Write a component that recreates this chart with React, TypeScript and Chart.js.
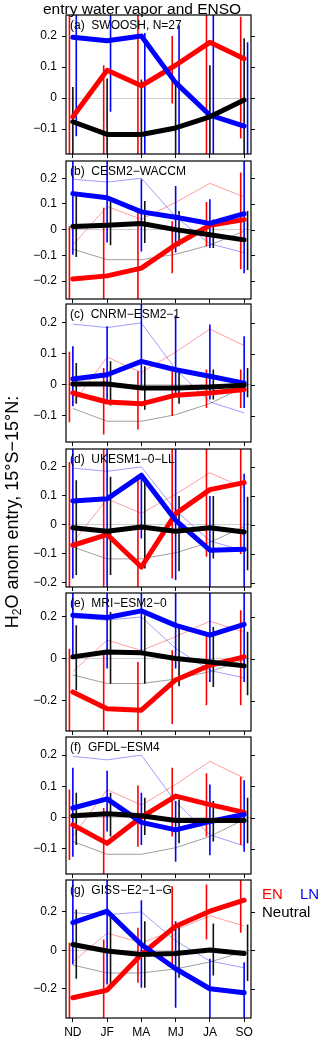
import React, { useEffect, useRef } from "react";
import { Chart, registerables } from "chart.js";
Chart.register(...registerables);

// ---------------- data ----------------
const seasons = ["ND", "JF", "MA", "MJ", "JA", "SO"];
const panelNames = [
  "(a)  SWOOSH, N=27",
  "(b)  CESM2\u2212WACCM",
  "(c)  CNRM\u2212ESM2\u22121",
  "(d)  UKESM1\u22120\u2212LL",
  "(e)  MRI\u2212ESM2\u22120",
  "(f)  GFDL\u2212ESM4",
  "(g)  GISS\u2212E2\u22121\u2212G",
];
const yMin = [-0.18, -0.27, -0.184, -0.214, -0.343, -0.18, -0.351];
const yMax = [0.268, 0.267, 0.261, 0.262, 0.314, 0.258, 0.366];
const yTicks = [
  [-0.1, 0, 0.1, 0.2],
  [-0.2, -0.1, 0, 0.1, 0.2],
  [-0.1, 0, 0.1, 0.2],
  [-0.2, -0.1, 0, 0.1, 0.2],
  [-0.2, 0, 0.2],
  [-0.1, 0, 0.1, 0.2],
  [-0.2, 0, 0.2],
];

const enMean = [
  [-0.06, 0.09, 0.04, 0.106, 0.18, 0.127],
  [-0.192, -0.18, -0.15, -0.059, 0.017, 0.039],
  [-0.026, -0.055, -0.061, -0.033, -0.026, -0.015],
  [-0.07, -0.033, -0.145, 0.039, 0.122, 0.146],
  [-0.157, -0.237, -0.244, -0.1, -0.03, 0.01],
  [-0.023, -0.082, 0.002, 0.069, 0.042, 0.017],
  [-0.246, -0.206, -0.021, 0.126, 0.204, 0.261],
];
const lnMean = [
  [0.196, 0.185, 0.2, 0.05, -0.055, -0.09],
  [0.14, 0.124, 0.069, 0.048, 0.024, 0.062],
  [0.019, 0.033, 0.076, 0.049, 0.028, 0.006],
  [0.083, 0.09, 0.171, 0.016, -0.087, -0.084],
  [0.208, 0.197, 0.229, 0.16, 0.113, 0.165],
  [0.031, 0.06, -0.015, -0.039, -0.012, 0.01],
  [0.144, 0.204, 0.031, -0.095, -0.199, -0.22],
];
const neuMean = [
  [-0.076, -0.117, -0.117, -0.096, -0.06, -0.006],
  [0.012, 0.017, 0.024, 0.0, -0.02, -0.04],
  [0.003, 0.003, -0.01, -0.01, -0.007, -0.001],
  [-0.01, -0.022, -0.007, -0.022, -0.01, -0.024],
  [0.01, 0.033, 0.029, 0.002, -0.014, -0.033],
  [0.006, 0.013, 0.006, -0.009, -0.009, -0.009],
  [0.031, -0.003, -0.021, -0.016, 0.002, -0.016],
];

const enLow = [
  [-0.4, -0.4, -0.4, -0.017, -0.4, -0.13],
  [-0.4, -0.45, -0.38, -0.17, -0.065, -0.154],
  [-0.12, -0.16, -0.144, -0.1, -0.074, -0.074],
  [-0.4, -0.4, -0.4, -0.185, -0.11, -0.1],
  [-0.45, -0.45, -0.45, -0.31, -0.22, -0.22],
  [-0.135, -0.19, -0.093, -0.06, -0.06, -0.087],
  [-0.45, -0.45, -0.168, -0.081, 0.057, 0.092],
];
const enHigh = [
  [0.4, 0.106, 0.4, 0.2, 0.4, 0.262],
  [0.013, 0.085, 0.078, 0.033, 0.107, 0.222],
  [0.107, 0.055, 0.044, 0.057, 0.05, 0.05],
  [0.217, 0.4, 0.171, 0.4, 0.4, 0.4],
  [0.049, 0.025, -0.014, 0.041, 0.113, 0.232],
  [0.09, 0.031, 0.103, 0.16, 0.142, 0.131],
  [0.04, 0.057, 0.118, 0.334, 0.343, 0.45],
];
const lnLow = [
  [-0.123, -0.044, -0.4, -0.4, -0.4, -0.4],
  [-0.098, -0.05, -0.085, -0.089, -0.072, -0.17],
  [-0.069, -0.058, -0.01, -0.035, -0.047, -0.074],
  [-0.185, -0.4, -0.047, -0.19, -0.4, -0.4],
  [0.01, -0.046, 0.025, -0.046, -0.11, -0.11],
  [-0.125, -0.044, -0.087, -0.141, -0.12, -0.109],
  [-0.073, -0.177, -0.194, -0.298, -0.45, -0.45],
];
const lnHigh = [
  [0.4, 0.4, 0.21, 0.235, 0.4, 0.18],
  [0.4, 0.4, 0.196, 0.17, 0.118, 0.4],
  [0.125, 0.189, 0.4, 0.225, 0.195, 0.157],
  [0.4, 0.4, 0.18, 0.4, 0.1, 0.177],
  [0.45, 0.45, 0.45, 0.45, 0.45, 0.45],
  [0.16, 0.15, 0.08, 0.053, 0.106, 0.12],
  [0.45, 0.45, 0.261, 0.152, -0.043, -0.061],
];
const neuLow = [
  [-0.4, -0.4, -0.4, -0.4, -0.4, -0.4],
  [-0.107, -0.061, -0.052, -0.065, -0.072, -0.157],
  [-0.061, -0.066, -0.08, -0.061, -0.047, -0.04],
  [-0.173, -0.173, -0.15, -0.16, -0.116, -0.156],
  [-0.149, -0.118, -0.118, -0.13, -0.133, -0.173],
  [-0.087, -0.06, -0.055, -0.082, -0.076, -0.082],
  [-0.147, -0.185, -0.194, -0.142, -0.13, -0.159],
];
const neuHigh = [
  [0.036, 0.063, 0.06, 0.048, 0.106, 0.193],
  [0.137, 0.111, 0.111, 0.072, 0.039, 0.072],
  [0.071, 0.076, 0.06, 0.053, 0.05, 0.055],
  [0.154, 0.166, 0.16, 0.1, 0.1, 0.097],
  [0.16, 0.224, 0.208, 0.152, 0.152, 0.129],
  [0.08, 0.08, 0.064, 0.058, 0.053, 0.064],
  [0.213, 0.187, 0.152, 0.135, 0.14, 0.135],
];

// ---------------- layout ----------------
const PANEL_TOP = [15, 161, 304, 449, 593, 737, 880];
const PANEL_BOTTOM = [154, 299, 442, 587, 731, 874, 1018];
const AREA_LEFT = 66;
const AREA_RIGHT = 251;
const PAD_TOP = 6;
const FONT = "'Liberation Sans', Arial, Helvetica, sans-serif";

const framePlugin = {
  id: "frame",
  afterDraw(chart: any) {
    const { ctx, chartArea: a, scales } = chart;
    ctx.save();
    ctx.strokeStyle = "#000";
    ctx.lineWidth = 1.2;
    ctx.strokeRect(a.left, a.top, a.right - a.left, a.bottom - a.top);
    ctx.lineWidth = 1;
    const y = scales.y;
    y.ticks.forEach((t: any) => {
      const py = Math.round(y.getPixelForValue(t.value)) + 0.5;
      ctx.beginPath();
      ctx.moveTo(a.right, py);
      ctx.lineTo(a.right + 4, py);
      ctx.stroke();
    });
    ctx.restore();
  },
};

function fmt(v: number) {
  if (Math.abs(v) < 1e-9) return "0";
  const s = Math.abs(v).toFixed(1);
  return v < 0 ? "\u2212" + s : s;
}

function Panel({ i }: { i: number }) {
  const ref = useRef<HTMLCanvasElement>(null);
  const last = i === 6;
  const xh = last ? 26 : 6;
  const h = PANEL_BOTTOM[i] - PANEL_TOP[i];
  const H = PAD_TOP + h + xh;

  useEffect(() => {
    const series = [
      { mean: enMean[i], lo: enLow[i], hi: enHigh[i], ref: enMean[0], color: "#ff0000", light: "rgba(255,0,0,0.38)", off: -0.1, order: 3, bar: "#ff0000" },
      { mean: lnMean[i], lo: lnLow[i], hi: lnHigh[i], ref: lnMean[0], color: "#0000ff", light: "rgba(0,0,255,0.38)", off: i === 0 ? 0.1 : 0, order: 2, bar: "#0000ff" },
      { mean: neuMean[i], lo: neuLow[i], hi: neuHigh[i], ref: neuMean[0], color: "#000000", light: "rgba(0,0,0,0.38)", off: i === 0 ? 0 : 0.1, order: 1, bar: "#111111" },
    ];
    const datasets: any[] = [];
    if (i > 0) {
      series.forEach((s) => {
        datasets.push({
          data: s.ref.map((v, k) => ({ x: k, y: v })),
          borderColor: s.light,
          borderWidth: 1,
          pointRadius: 0,
          tension: 0,
          order: 30,
          clip: 0,
        });
      });
    }
    series.forEach((s) => {
      datasets.push({
        data: s.lo.flatMap((lo, k) => [
          { x: k + s.off, y: lo },
          { x: k + s.off, y: s.hi[k] },
          { x: k + s.off + 0.01, y: null },
        ]),
        borderColor: s.bar,
        borderWidth: 1.6,
        borderCapStyle: "butt",
        pointRadius: 0,
        spanGaps: false,
        tension: 0,
        order: 20,
        clip: 0,
      });
    });
    series.forEach((s) => {
      datasets.push({
        data: s.mean.map((v, k) => ({ x: k, y: v })),
        borderColor: s.color,
        borderWidth: 5,
        borderCapStyle: "round",
        borderJoinStyle: "round",
        pointRadius: 0,
        tension: 0,
        order: s.order,
        clip: 0,
      });
    });

    const chart = new Chart(ref.current as HTMLCanvasElement, {
      type: "line",
      data: { datasets },
      plugins: [framePlugin],
      options: {
        animation: false,
        responsive: false,
        devicePixelRatio: 1,
        events: [],
        layout: { padding: { left: 0, right: 320 - AREA_RIGHT, top: PAD_TOP, bottom: 0 } },
        plugins: { legend: { display: false }, tooltip: { enabled: false }, title: { display: false } },
        scales: {
          x: {
            type: "linear",
            min: -0.2,
            max: 5.2,
            afterBuildTicks: (s: any) => {
              s.ticks = seasons.map((_, k) => ({ value: k }));
            },
            afterFit: (s: any) => {
              s.height = xh;
              s.paddingLeft = 0;
              s.paddingRight = 0;
              s.paddingTop = 0;
              s.paddingBottom = 0;
            },
            border: { display: false },
            grid: { display: true, drawOnChartArea: false, drawTicks: true, tickLength: 4, color: "#000", tickColor: "#000", lineWidth: 1 },
            ticks: {
              display: last,
              autoSkip: false,
              maxRotation: 0,
              padding: 3,
              color: "#000",
              font: { family: FONT, size: 12 },
              callback: (v: any) => seasons[Math.round(Number(v))] ?? "",
            },
          },
          y: {
            type: "linear",
            min: yMin[i],
            max: yMax[i],
            afterBuildTicks: (s: any) => {
              s.ticks = yTicks[i].map((v) => ({ value: v }));
            },
            afterFit: (s: any) => {
              s.width = AREA_LEFT;
              s.paddingLeft = 0;
              s.paddingRight = 0;
              s.paddingTop = 0;
              s.paddingBottom = 0;
            },
            border: { display: false },
            grid: {
              display: true,
              drawOnChartArea: true,
              drawTicks: true,
              tickLength: 4,
              tickColor: "#000",
              lineWidth: 1,
              color: (c: any) => (c.tick && Math.abs(c.tick.value) < 1e-9 ? "#cfcfcf" : "rgba(0,0,0,0)"),
            },
            ticks: {
              padding: 5,
              color: "#000",
              font: { family: FONT, size: 12 },
              callback: (v: any) => fmt(Number(v)),
            },
          },
        },
      } as any,
    });
    return () => chart.destroy();
  }, []);

  return (
    <>
      <canvas
        ref={ref}
        width={320}
        height={H}
        style={{ position: "absolute", left: 0, top: PANEL_TOP[i] - PAD_TOP, width: 320, height: H, display: "block" }}
      />
      <div
        style={{
          position: "absolute",
          left: 70,
          top: PANEL_TOP[i] + 4,
          font: `12px ${FONT}`,
          lineHeight: "12px",
          whiteSpace: "pre",
          color: "#000",
        }}
      >
        {panelNames[i]}
      </div>
    </>
  );
}

export default function App() {
  return (
    <div
      style={{
        position: "absolute",
        left: 0,
        top: 0,
        width: 320,
        height: 1043,
        overflow: "hidden",
        background: "#fff",
        fontFamily: FONT,
      }}
    >
      {panelNames.map((_, i) => (
        <Panel key={i} i={i} />
      ))}
      <div
        style={{
          position: "absolute",
          left: 43,
          top: 1,
          font: `15.5px ${FONT}`,
          lineHeight: "15px",
          whiteSpace: "pre",
          color: "#000",
        }}
      >
        entry water vapor and ENSO
      </div>
      <div
        style={{
          position: "absolute",
          left: 11.5,
          top: 512,
          width: 400,
          transform: "translate(-50%, -50%) rotate(-90deg)",
          textAlign: "center",
          font: `18px ${FONT}`,
          lineHeight: "18px",
          whiteSpace: "pre",
          color: "#000",
        }}
      >
        H<sub style={{ fontSize: "12px", verticalAlign: "-3px", lineHeight: 0 }}>2</sub>O anom entry, 15°S−15°N:
      </div>
      <div style={{ position: "absolute", left: 262, top: 886, font: `15px ${FONT}`, lineHeight: "15px", color: "#ff0000", whiteSpace: "pre" }}>EN</div>
      <div style={{ position: "absolute", left: 300, top: 886, font: `15px ${FONT}`, lineHeight: "15px", color: "#0000ff", whiteSpace: "pre" }}>LN</div>
      <div style={{ position: "absolute", left: 262, top: 904, font: `15px ${FONT}`, lineHeight: "15px", color: "#000", whiteSpace: "pre" }}>Neutral</div>
    </div>
  );
}
